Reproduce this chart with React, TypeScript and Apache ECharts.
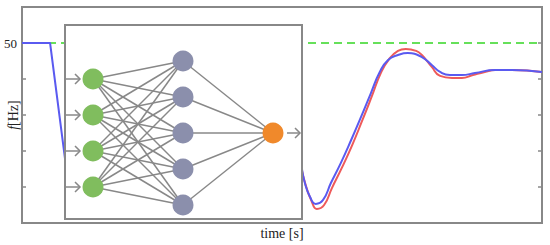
import React, { useEffect, useRef } from "react";
import * as echarts from "echarts";

// time axis (arbitrary units, no tick labels shown)
const timeRange = [0, 10];
// frequency axis [Hz]
const freqMin = 49.0;
const freqMax = 50.2;
const freqStep = 0.2;
const freqLabels = ["50"];
const nominal = 50;

// step portion (shared by both curves, mostly hidden behind the inset)
const stepTime = [0, 0.54, 0.85, 5.38];
const stepFreq = [50, 50, 49.306, 49.306];

// measured (red) and predicted (blue) frequency response after the inset
const redTime = [5.38, 5.46, 5.56, 5.67, 5.81, 5.96, 6.15, 6.35, 6.54, 6.73, 6.9, 7.06, 7.23, 7.38, 7.58, 7.69, 7.88, 8.04, 8.27, 8.46, 8.67, 8.9, 9.1, 9.42, 10];
const redFreq = [49.294, 49.206, 49.128, 49.078, 49.1, 49.194, 49.306, 49.433, 49.567, 49.706, 49.833, 49.911, 49.956, 49.967, 49.956, 49.933, 49.867, 49.817, 49.806, 49.806, 49.822, 49.839, 49.85, 49.85, 49.839];
const blueTime = [5.38, 5.44, 5.54, 5.65, 5.79, 5.94, 6.13, 6.33, 6.52, 6.71, 6.88, 7.04, 7.23, 7.42, 7.69, 7.88, 8.04, 8.23, 8.46, 8.71, 9.1, 9.42, 10];
const blueFreq = [49.306, 49.222, 49.144, 49.106, 49.128, 49.222, 49.333, 49.461, 49.589, 49.722, 49.839, 49.906, 49.933, 49.944, 49.922, 49.878, 49.839, 49.822, 49.822, 49.833, 49.85, 49.85, 49.839];

// neural network layers (node counts)
const layerSizes = [4, 5, 1];
const layerColors = ["#80bd5e", "#8b8fac", "#f0892b"];

const GRAY = "#888888";
const FONT = "Liberation Serif";
const RED = "#ee5a5a";
const BLUE = "#5a5af0";

function buildInset(): any[] {
  const box = { x: 65, y: 25, w: 237, h: 194 };
  const layerX = [93, 183, 273];
  const spacing = 36;
  const centerY = 133;
  const r = 10.5;
  const Z = 100;
  const pos: number[][][] = layerSizes.map((n, li) =>
    Array.from({ length: n }, (_, i) => [layerX[li], centerY + (i - (n - 1) / 2) * spacing])
  );
  const els: any[] = [];
  els.push({
    type: "rect",
    z: Z,
    shape: { x: box.x, y: box.y, width: box.w, height: box.h },
    style: { fill: "#ffffff", stroke: GRAY, lineWidth: 2 },
  });
  for (let l = 0; l < pos.length - 1; l++) {
    for (const a of pos[l]) {
      for (const b of pos[l + 1]) {
        els.push({
          type: "line",
          z: Z + 1,
          shape: { x1: a[0], y1: a[1], x2: b[0], y2: b[1] },
          style: { stroke: GRAY, lineWidth: 1.5 },
        });
      }
    }
  }
  const arrow = (x1: number, x2: number, y: number) => {
    els.push({ type: "line", z: Z + 1, shape: { x1, y1: y, x2, y2: y }, style: { stroke: GRAY, lineWidth: 1.5 } });
    els.push({
      type: "polyline",
      z: Z + 1,
      shape: { points: [[x2 - 5, y - 5], [x2, y], [x2 - 5, y + 5]] },
      style: { stroke: GRAY, lineWidth: 1.5, fill: null },
    });
  };
  for (const p of pos[0]) arrow(box.x + 1, 80, p[1]);
  arrow(287, 300, pos[2][0][1]);
  pos.forEach((layer, li) => {
    for (const p of layer) {
      els.push({
        type: "circle",
        z: Z + 2,
        shape: { cx: p[0], cy: p[1], r },
        style: { fill: layerColors[li] },
      });
    }
  });
  return els;
}

export default function App() {
  const ref = useRef<HTMLDivElement>(null);
  useEffect(() => {
    if (!ref.current) return;
    const chart = echarts.init(ref.current, null, { renderer: "svg" });
    const step = stepTime.map((t, i) => [t, stepFreq[i]]);
    const red = redTime.map((t, i) => [t, redFreq[i]]);
    const blue = blueTime.map((t, i) => [t, blueFreq[i]]);
    const yCommon = {
      type: "value",
      min: freqMin,
      max: freqMax,
      interval: freqStep,
      splitLine: { show: false },
      axisLine: { show: true, lineStyle: { color: GRAY, width: 2 } },
      axisTick: { show: true, inside: true, length: 4, lineStyle: { color: GRAY, width: 1.5 } },
    };
    chart.setOption({
      animation: false,
      grid: {
        left: 22,
        top: 7,
        right: 8,
        bottom: 22,
        outerBoundsMode: "none",
        containLabel: false,
        show: true,
        borderColor: GRAY,
        borderWidth: 2,
      },
      xAxis: {
        type: "value",
        min: timeRange[0],
        max: timeRange[1],
        name: "time [s]",
        nameLocation: "middle",
        nameGap: 3,
        nameMoveOverlap: false,
        nameTextStyle: { fontFamily: FONT, fontSize: 14, color: "#222", verticalAlign: "top" },
        axisLine: { show: true, lineStyle: { color: GRAY, width: 2 } },
        axisTick: { show: false },
        axisLabel: { show: false },
        splitLine: { show: false },
      },
      yAxis: [
        {
          ...yCommon,
          name: "{i|f}[Hz]",
          nameLocation: "middle",
          nameGap: 2,
          nameMoveOverlap: false,
          nameTextStyle: {
            fontFamily: FONT,
            fontSize: 14,
            color: "#222",
            verticalAlign: "bottom",
            rich: { i: { fontStyle: "italic", fontFamily: FONT, fontSize: 14, color: "#222" } },
          },
          axisLabel: {
            show: true,
            fontFamily: FONT,
            fontSize: 13,
            color: "#222",
            margin: 5,
            formatter: (v: number) => {
              const s = String(Math.round(v * 10) / 10);
              return freqLabels.includes(s) ? s : "";
            },
          },
        },
        { ...yCommon, position: "right", axisLabel: { show: false } },
      ],
      series: [
        {
          type: "line",
          data: [[timeRange[0], nominal], [timeRange[1], nominal]],
          symbol: "none",
          lineStyle: { color: "#66e05a", width: 2, type: [8, 5] },
          z: 1,
        },
        {
          type: "line",
          data: red,
          symbol: "none",
          smooth: 0.5,
          lineStyle: { color: RED, width: 2 },
          z: 2,
        },
        {
          type: "line",
          data: step,
          symbol: "none",
          lineStyle: { color: BLUE, width: 2 },
          z: 3,
        },
        {
          type: "line",
          data: blue,
          symbol: "none",
          smooth: 0.5,
          lineStyle: { color: BLUE, width: 2 },
          z: 3,
        },
      ],
      graphic: buildInset(),
    });
    return () => chart.dispose();
  }, []);
  return (
    <div
      ref={ref}
      style={{ width: 550, height: 245, position: "fixed", left: 0, top: 0, background: "#fff" }}
    />
  );
}
